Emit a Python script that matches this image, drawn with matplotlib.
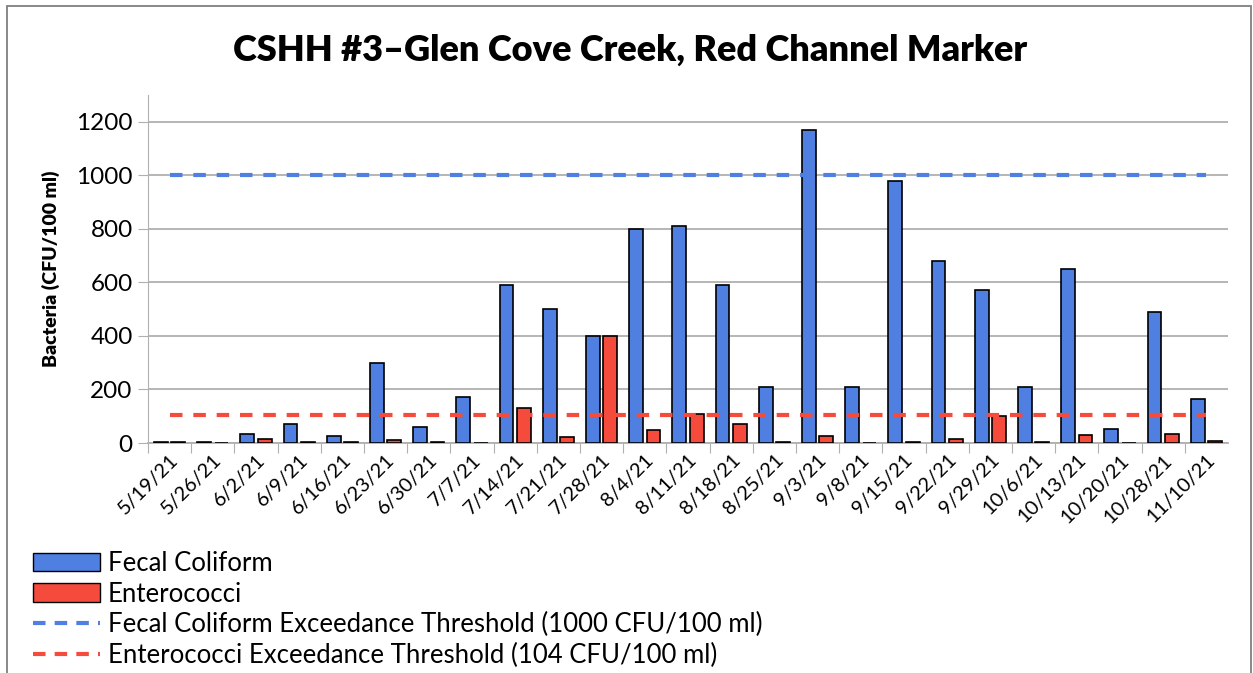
import matplotlib.pyplot as plt
import numpy as np
from matplotlib.patches import Patch, Rectangle
from matplotlib.lines import Line2D

plt.rcParams["font.family"] = ["Lato", "DejaVu Sans"]

dates = ["5/19/21", "5/26/21", "6/2/21", "6/9/21", "6/16/21", "6/23/21", "6/30/21",
         "7/7/21", "7/14/21", "7/21/21", "7/28/21", "8/4/21", "8/11/21", "8/18/21",
         "8/25/21", "9/3/21", "9/8/21", "9/15/21", "9/22/21", "9/29/21", "10/6/21",
         "10/13/21", "10/20/21", "10/28/21", "11/10/21"]
fecal = [4, 4, 32, 70, 26, 300, 60, 170, 590, 500, 400, 800, 810, 590, 210, 1170,
         210, 980, 680, 570, 210, 650, 52, 490, 165]
entero = [2, 1, 14, 2, 4, 12, 4, 1, 130, 24, 400, 50, 110, 70, 2, 28, 1, 4, 14,
          100, 2, 30, 1, 32, 8]
fecal_limit = 1000
entero_limit = 104

blue = "#4f7fe0"
red = "#f44b3c"

fig = plt.figure(figsize=(12.53, 6.73), dpi=100)
ax = fig.add_axes([148 / 1253, 1 - 443 / 673, 1080 / 1253, 348 / 673])

x = np.arange(len(dates))
w = 0.32
ax.bar(x - 0.2, fecal, w, color=blue, edgecolor="black", linewidth=1.2, zorder=3)
ax.bar(x + 0.2, entero, w, color=red, edgecolor="black", linewidth=1.2, zorder=3)
ax.plot(x, [fecal_limit] * len(x), color=blue, ls=(0, (3, 2.6)), lw=3, zorder=4)
ax.plot(x, [entero_limit] * len(x), color=red, ls=(0, (3, 2.6)), lw=3, zorder=4)

ax.set_xlim(-0.5, len(dates) - 0.5)
ax.set_ylim(0, 1300)
ax.set_yticks(range(0, 1201, 200))
ax.set_yticklabels([str(v) for v in range(0, 1201, 200)], fontsize=17.5)
ax.set_xticks(x - 0.5, minor=False)
ax.set_xticklabels([])
ax.set_xticks(x, minor=True)
ax.set_xticklabels(dates, minor=True, rotation=45, ha="right", rotation_mode="anchor",
                   fontsize=14.5)
ax.tick_params(axis="x", which="minor", length=0, pad=6)
ax.tick_params(axis="x", which="major", length=7, color="#b0b0b0")
ax.tick_params(axis="y", length=7, color="#b0b0b0", pad=4)
ax.yaxis.grid(True, color="#b0b0b0", lw=1.3, zorder=0)
for s in ["top", "right"]:
    ax.spines[s].set_visible(False)
ax.spines["left"].set_color("#b0b0b0")
ax.spines["bottom"].set_color("#b0b0b0")
ax.spines["bottom"].set_linewidth(1.3)
ax.set_ylabel("Bacteria (CFU/100 ml)", fontsize=14, fontweight="heavy", labelpad=12)

fig.text(0.503, 1 - 50 / 673, "CSHH #3\u2013Glen Cove Creek, Red Channel Marker",
         ha="center", va="center", fontsize=26, fontweight="heavy")

handles = [
    Patch(facecolor=blue, edgecolor="black"),
    Patch(facecolor=red, edgecolor="black"),
    Line2D([], [], color=blue, ls=(0, (3, 2.2)), lw=3),
    Line2D([], [], color=red, ls=(0, (3, 2.2)), lw=3),
]
labels = ["Fecal Coliform", "Enterococci",
          "Fecal Coliform Exceedance Threshold (1000 CFU/100 ml)",
          "Enterococci Exceedance Threshold (104 CFU/100 ml)"]
fig.legend(handles, labels, loc="upper left", bbox_to_anchor=(33 / 1253, 1 - 551 / 673),
           frameon=False, fontsize=18.5, handlelength=2.6, handleheight=0.75,
           handletextpad=0.3, labelspacing=0.22, borderaxespad=0, borderpad=0)

fig.add_artist(Rectangle((7 / 1253, -0.01), 1 - 9 / 1253, 1 - 6 / 673 + 0.01,
                         transform=fig.transFigure, fill=False, edgecolor="#7f7f7f", lw=1.3))

fig.savefig("out.png")
